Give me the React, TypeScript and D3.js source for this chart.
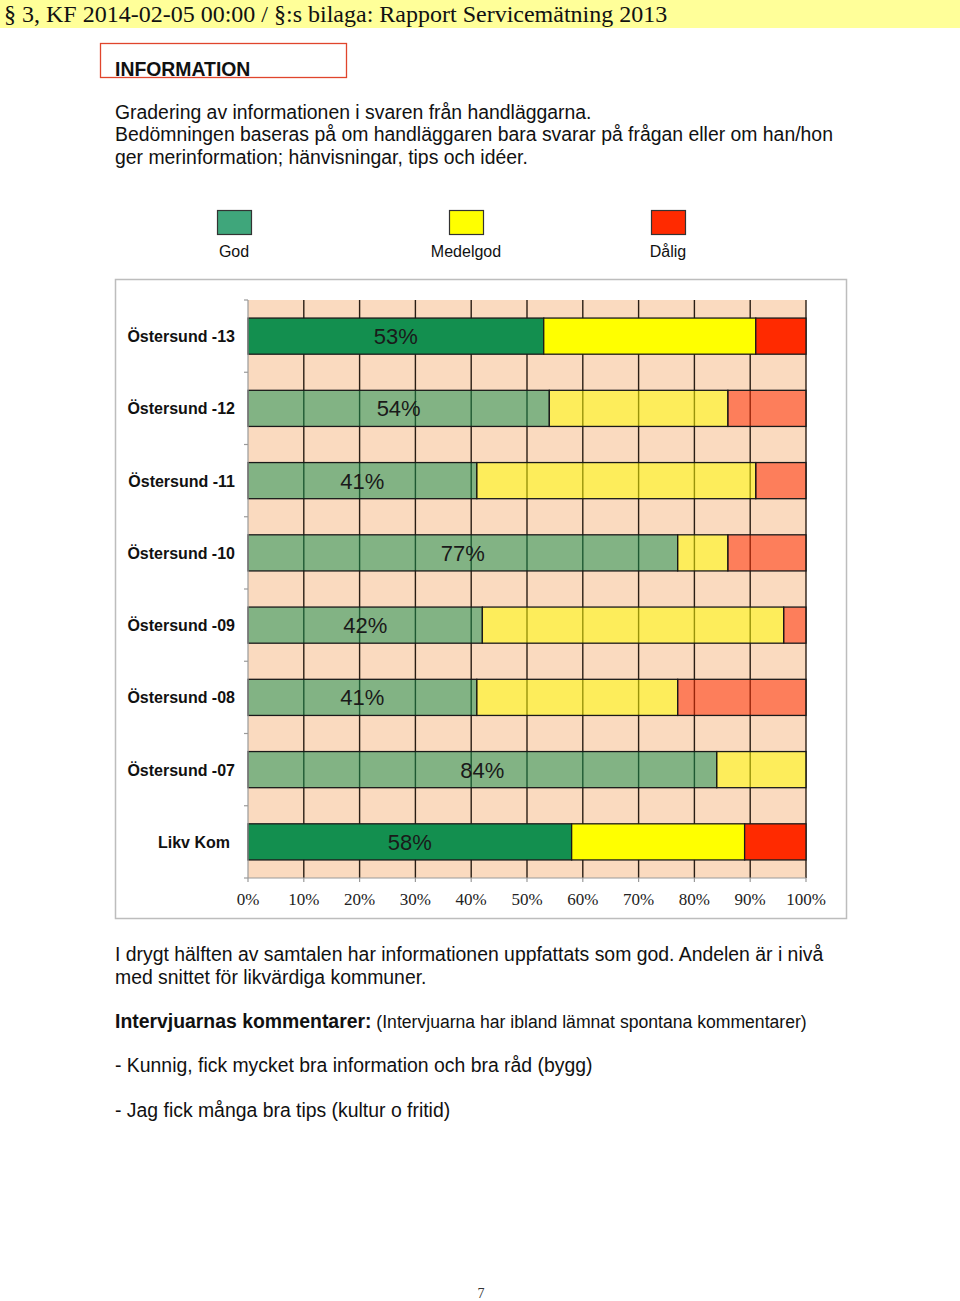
import React from "react";
import * as d3 from "d3";

const categories = [
  "Östersund -13",
  "Östersund -12",
  "Östersund -11",
  "Östersund -10",
  "Östersund -09",
  "Östersund -08",
  "Östersund -07",
  "Likv Kom",
];
const god = [53, 54, 41, 77, 42, 41, 84, 58];
const medelgod = [38, 32, 50, 9, 54, 36, 16, 31];
const dalig = [9, 14, 9, 14, 4, 23, 0, 11];
const emphasized = [true, false, false, false, false, false, false, true];
const seriesKeys = ["God", "Medelgod", "Dålig"];
const xTicks = [0, 10, 20, 30, 40, 50, 60, 70, 80, 90, 100];

const barColors: Record<string, string> = {
  God: "#138F4F",
  Medelgod: "#FFFF00",
  Dålig: "#FF2A00",
};
const legendColors: Record<string, string> = {
  God: "#3FA67B",
  Medelgod: "#FFFF00",
  Dålig: "#FF2A00",
};

const SANS = "'Liberation Sans', Arial, sans-serif";
const SERIF = "'Liberation Serif', 'Times New Roman', serif";
const BODY = 19.4;

export default function App() {
  const rows = categories.map((c, i) => ({
    cat: c,
    God: god[i],
    Medelgod: medelgod[i],
    Dålig: dalig[i],
    emph: emphasized[i],
  }));
  const stack = d3.stack<any>().keys(seriesKeys);
  const series = stack(rows);

  const x = d3.scaleLinear().domain([0, 100]).range([248, 806]);
  const y = d3
    .scaleBand<string>()
    .domain(categories)
    .range([300, 878])
    .paddingInner(0.5)
    .paddingOuter(0.25);
  const step = y.step();
  const plotTop = 300;
  const plotBottom = 878;

  const legendItems = [
    { key: "God", x: 217 },
    { key: "Medelgod", x: 449 },
    { key: "Dålig", x: 651 },
  ];

  const bandEdges = d3.range(categories.length + 1).map((i) => plotTop + i * step);

  return (
    <svg
      width={960}
      height={1301}
      style={{ position: "absolute", left: 0, top: 0, background: "#fff" }}
    >
      {/* header band */}
      <rect x={0} y={0} width={960} height={28} fill="#FFFF99" />
      <text x={4} y={22} fontFamily={SERIF} fontSize={24} fill="#111">
        § 3, KF 2014-02-05 00:00 / §:s bilaga: Rapport Servicemätning 2013
      </text>

      {/* INFORMATION box */}
      <rect x={100.5} y={43.5} width={246} height={34} fill="none" stroke="#E0452C" strokeWidth={1.3} />
      <text x={115} y={76} fontFamily={SANS} fontWeight="bold" fontSize={BODY} fill="#111">
        INFORMATION
      </text>

      <g fontFamily={SANS} fontSize={BODY} fill="#111">
        <text x={115} y={119}>Gradering av informationen i svaren från handläggarna.</text>
        <text x={115} y={141}>
          Bedömningen baseras på om handläggaren bara svarar på frågan eller om han/hon
        </text>
        <text x={115} y={164}>ger merinformation; hänvisningar, tips och idéer.</text>
      </g>

      {/* legend */}
      {legendItems.map((l) => (
        <g key={l.key}>
          <rect x={l.x + 0.5} y={210.5} width={34} height={24} fill={legendColors[l.key]} stroke="#333" strokeWidth={1.2} />
          <text x={l.x + 17} y={257} textAnchor="middle" fontFamily={SANS} fontSize={16} fill="#111">
            {l.key}
          </text>
        </g>
      ))}

      {/* chart frame */}
      <rect x={115.5} y={279.5} width={731} height={639} fill="none" stroke="#BDBDBD" strokeWidth={1.5} />

      {/* plot background */}
      <rect x={x(0)} y={plotTop} width={x(100) - x(0)} height={plotBottom - plotTop} fill="#FADABF" />

      {/* vertical gridlines */}
      {xTicks.slice(1).map((t) => (
        <line key={t} x1={x(t)} x2={x(t)} y1={plotTop} y2={plotBottom} stroke="#2A1E14" strokeWidth={1.4} />
      ))}

      {/* bars */}
      {series.map((s) => (
        <g key={s.key}>
          {s.map((d, i) => {
            const w = x(d[1]) - x(d[0]);
            if (w <= 0) return null;
            return (
              <rect
                key={i}
                x={x(d[0])}
                y={y(categories[i])}
                width={w}
                height={y.bandwidth()}
                fill={barColors[s.key]}
                fillOpacity={rows[i].emph ? 1 : 0.52}
                stroke="#1A1A1A"
                strokeWidth={1.3}
              />
            );
          })}
        </g>
      ))}

      {/* value labels */}
      {series[0].map((d, i) => (
        <text
          key={i}
          x={(x(d[0]) + x(d[1])) / 2}
          y={(y(categories[i]) as number) + y.bandwidth() / 2 + 8}
          textAnchor="middle"
          fontFamily={SANS}
          fontSize={22}
          fill="#1A1A1A"
        >
          {god[i]}%
        </text>
      ))}

      {/* axes */}
      <line x1={x(0)} x2={x(0)} y1={plotTop} y2={plotBottom} stroke="#9A9A9A" strokeWidth={1.2} />
      {bandEdges.map((e, i) => (
        <line key={i} x1={x(0) - 4} x2={x(0)} y1={e} y2={e} stroke="#9A9A9A" strokeWidth={1.2} />
      ))}
      <line x1={x(0)} x2={x(100)} y1={plotBottom} y2={plotBottom} stroke="#9A9A9A" strokeWidth={1.2} />
      {xTicks.map((t) => (
        <g key={t}>
          <line x1={x(t)} x2={x(t)} y1={plotBottom} y2={plotBottom + 4} stroke="#9A9A9A" strokeWidth={1.2} />
          <text x={x(t)} y={905} textAnchor="middle" fontFamily={SERIF} fontSize={17} fill="#222">
            {t}%
          </text>
        </g>
      ))}

      {/* category labels */}
      {categories.map((c, i) => (
        <text
          key={c}
          x={i === categories.length - 1 ? 230 : 235}
          y={(y(c) as number) + y.bandwidth() / 2 + 6}
          textAnchor="end"
          fontFamily={SANS}
          fontWeight="bold"
          fontSize={16}
          fill="#111"
        >
          {c}
        </text>
      ))}

      {/* text below */}
      <g fontFamily={SANS} fontSize={BODY} fill="#111">
        <text x={115} y={961}>
          I drygt hälften av samtalen har informationen uppfattats som god. Andelen är i nivå
        </text>
        <text x={115} y={984}>med snittet för likvärdiga kommuner.</text>
        <text x={115} y={1028}>
          <tspan fontWeight="bold">Intervjuarnas kommentarer:</tspan>
          <tspan fontSize={17.6}> (Intervjuarna har ibland lämnat spontana kommentarer)</tspan>
        </text>
        <text x={115} y={1072}>- Kunnig, fick mycket bra information och bra råd (bygg)</text>
        <text x={115} y={1117}>- Jag fick många bra tips (kultur o fritid)</text>
      </g>

      <text x={481} y={1298} textAnchor="middle" fontFamily={SERIF} fontSize={14} fill="#333">
        7
      </text>
    </svg>
  );
}
